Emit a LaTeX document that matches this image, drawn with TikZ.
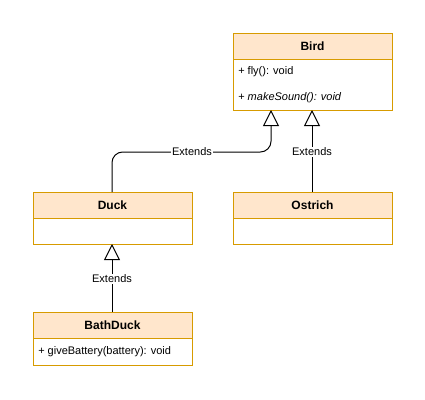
\documentclass[tikz,border=0pt]{standalone}
\usepackage{fontspec}
\setmainfont{Liberation Sans}
\usetikzlibrary{arrows.meta}
\definecolor{hdrfill}{HTML}{FFE6CC}
\definecolor{hdrline}{HTML}{D79B00}
\begin{document}
\begin{tikzpicture}[x=0.75pt,y=-0.75pt,
  hdr/.style={draw=hdrline,fill=hdrfill,line width=0.75pt},
  bodybox/.style={draw=hdrline,fill=white,line width=0.75pt},
  title/.style={font=\fontsize{9}{11}\selectfont\bfseries},
  member/.style={font=\fontsize{8.25}{10}\selectfont,anchor=west,inner sep=0pt},
  ext/.style={draw=black,line width=0.75pt,-{Triangle[open,length=12pt,width=12pt,fill=white]}},
  extlabel/.style={fill=white,font=\fontsize{8.25}{10}\selectfont,inner sep=1pt}]
\useasboundingbox (0,0) rectangle (425,400);
% Bird
\draw[bodybox] (233,59) rectangle (392,110);
\draw[hdr] (233,33) rectangle (392,59);
\node[title] (bird) at (312.5,46) {Bird};
\node[member] (fly) at (238,72) {+ fly(): void};
\node[member] (make) at (238,98) {+ \textit{makeSound(): void}};
\coordinate (birdL) at (271,110);
\coordinate (birdR) at (312,110);
% Duck
\draw[bodybox] (33,218) rectangle (192,244);
\draw[hdr] (33,192) rectangle (192,218);
\node[title] (duck) at (112.5,205) {Duck};
\coordinate (duckT) at (112,192);
\coordinate (duckB) at (112,244);
% Ostrich
\draw[bodybox] (233,218) rectangle (392,244);
\draw[hdr] (233,192) rectangle (392,218);
\node[title] (ostrich) at (312.5,205) {Ostrich};
\coordinate (ostT) at (312,192);
% BathDuck
\draw[bodybox] (33,338) rectangle (192,365);
\draw[hdr] (33,312) rectangle (192,338);
\node[title] (bath) at (112.5,325) {BathDuck};
\node[member] (give) at (38,352) {+ giveBattery(battery): void};
\coordinate (bathT) at (112,312);
% connectors
\draw[ext,rounded corners=8pt] (duckT) -- (112,152) -- (271,152) -- (birdL);
\node[extlabel] (l1) at (192,152) {Extends};
\draw[ext] (ostT) -- (birdR);
\node[extlabel] (l2) at (312,152) {Extends};
\draw[ext] (bathT) -- (duckB);
\node[extlabel] (l3) at (112,279) {Extends};
\end{tikzpicture}
\end{document}
